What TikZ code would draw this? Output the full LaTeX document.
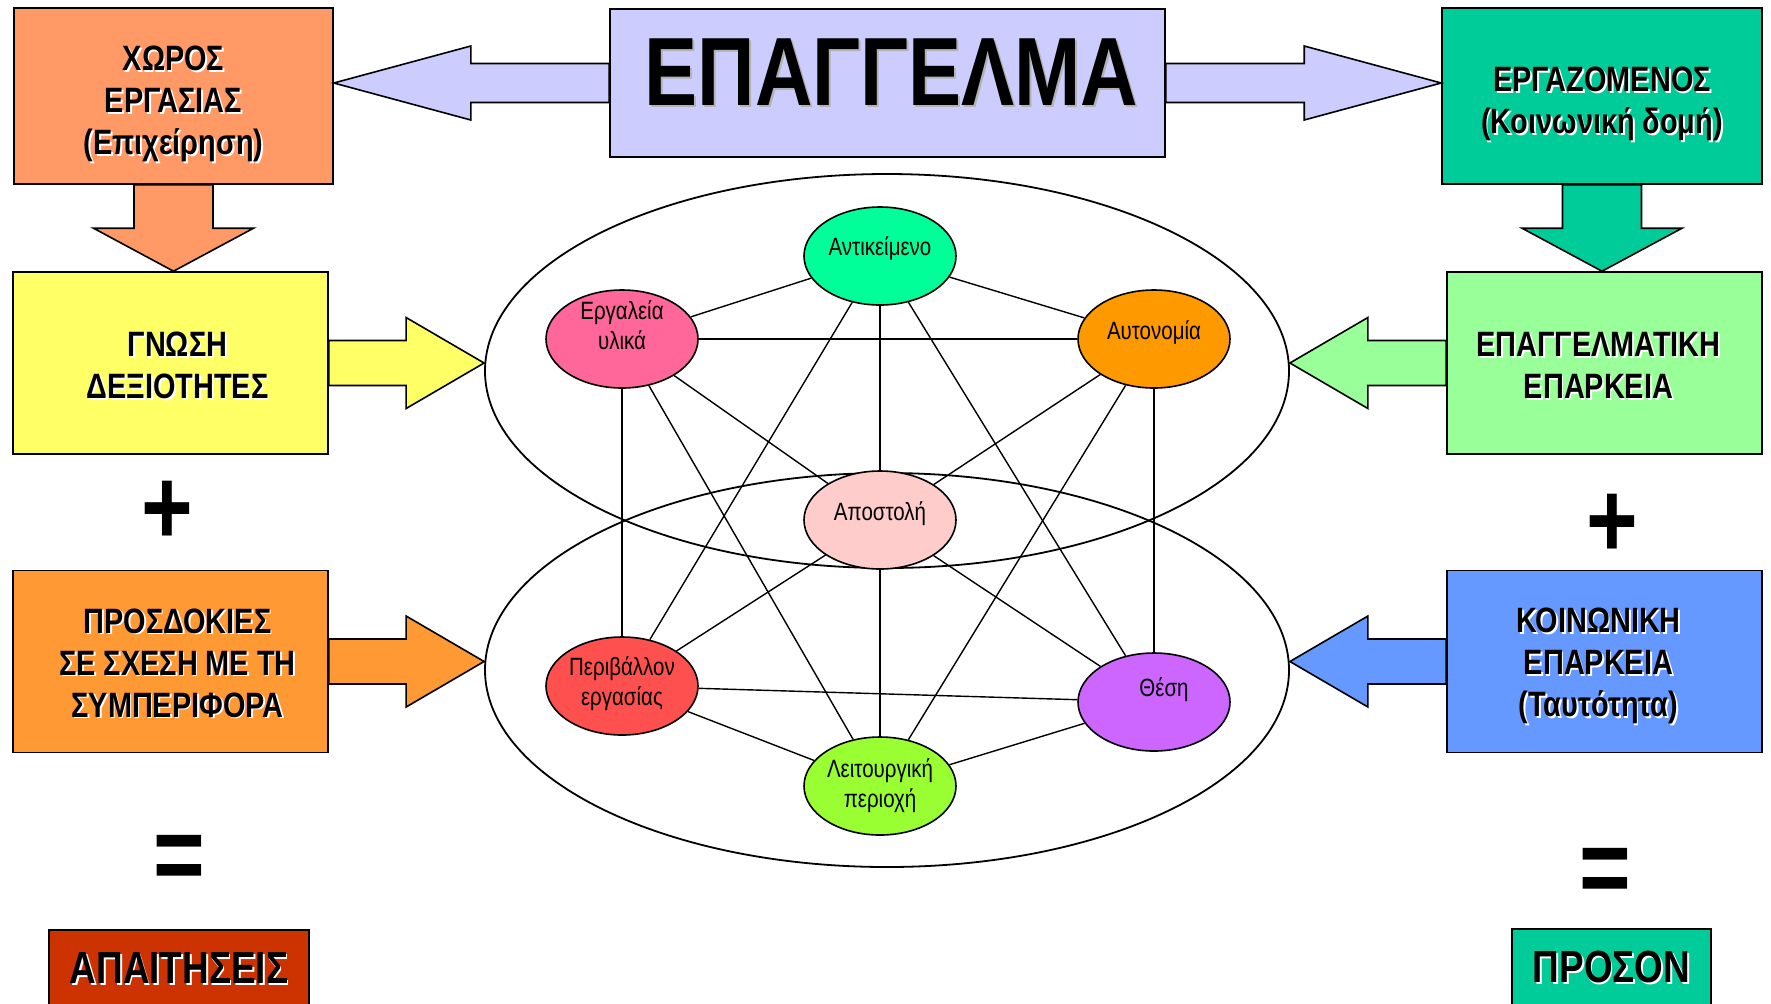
\documentclass[tikz,border=0pt]{standalone}
\usepackage{fontspec}
\setmainfont[FakeStretch=0.82]{Liberation Sans}
\usetikzlibrary{shapes.geometric,calc}

\definecolor{xorosorange}{HTML}{FF9966}
\definecolor{titleblue}{HTML}{CCCCFF}
\definecolor{ergazgreen}{HTML}{00CC99}
\definecolor{gnosiyellow}{HTML}{FFFF66}
\definecolor{epaggreen}{HTML}{99FF99}
\definecolor{prosdokorange}{HTML}{FF9933}
\definecolor{koinonblue}{HTML}{6699FF}
\definecolor{apaitred}{HTML}{CC3300}
\definecolor{antikgreen}{HTML}{00FF99}
\definecolor{ergalpink}{HTML}{FF6699}
\definecolor{autonorange}{HTML}{FF9900}
\definecolor{apostpink}{HTML}{FFCCCC}
\definecolor{perivred}{HTML}{FF5050}
\definecolor{thesiviolet}{HTML}{CC66FF}
\definecolor{leitgreen}{HTML}{99FF33}
\definecolor{shadowgray}{HTML}{B2B2B2}

% text with an offset shadow
\newcommand{\shd}[2][white]{\makebox[0pt][l]{\kern0.9pt\raisebox{-0.9pt}{\textcolor{#1}{#2}}}#2}
% taller first line, pushes the box text down
\newcommand{\drop}[1]{\rule{0pt}{#1}}
% lines set a little off centre
\newcommand{\lsh}{\kern7pt}
\newcommand{\rsh}{\kern-6pt}

% block arrow: fill, from, to, shaft half width, head half width, head length
\newcommand{\blockarrow}[6]{%
  \coordinate (hb) at ($(#3)!#6!(#2)$);
  \filldraw[fill=#1, line width=0.8pt]
    ($(#2)!#4!90:(#3)$) -- ($(hb)!#4!90:(#3)$) -- ($(hb)!#5!90:(#3)$) --
    (#3) -- ($(hb)!#5!-90:(#3)$) -- ($(hb)!#4!-90:(#3)$) --
    ($(#2)!#4!-90:(#3)$) -- cycle;
}

\begin{document}
\begin{tikzpicture}[x=0.5pt, y=-0.5pt,
    infobox/.style={draw, line width=0.8pt, inner sep=0pt, align=center,
      minimum width=157.5pt, minimum height=91pt,
      font=\fontsize{17.6}{21}\selectfont\bfseries},
    bubble/.style={draw, ellipse, line width=0.8pt, inner sep=0pt,
      minimum width=76pt, minimum height=49pt},
    bubbletext/.style={inner sep=0pt, align=center,
      font=\fontsize{12.5}{15}\selectfont},
    ring/.style={draw, ellipse, line width=0.9pt,
      minimum width=402pt, minimum height=197pt},
    sign/.style={inner sep=0pt, anchor=base,
      font=\fontsize{54}{54}\selectfont\bfseries},
    link/.style={line width=0.7pt}]

    \path[use as bounding box, fill=white] (0,0) rectangle (1771,1003);

    % top row
    \node[infobox, fill=titleblue, minimum width=277.5pt, minimum height=74pt,
      text depth=11pt, font=\fontsize{48.5}{49}\selectfont\bfseries]
      (title) at (887.5,83) {\kern4pt\shd[shadowgray]{ΕΠΑΓΓΕΛΜΑ}};
    \node[infobox, fill=xorosorange, minimum width=159.5pt, minimum height=88pt]
      (xoros) at (173.5,96)
      {\drop{21.4pt}\shd{ΧΩΡΟΣ}\\\shd{ΕΡΓΑΣΙΑΣ}\\\shd{(Επιχείρηση)}};
    \node[infobox, fill=ergazgreen, minimum width=160pt, minimum height=88pt]
      (ergaz) at (1602,96)
      {\drop{21.4pt}\shd{ΕΡΓΑΖΟΜΕΝΟΣ}\\\shd{(Κοινωνική δομή)}};

    % left column
    \node[infobox, fill=gnosiyellow] (gnosi) at (170.5,363)
      {\drop{15.8pt}\lsh\shd{ΓΝΩΣΗ}\\\lsh\shd{ΔΕΞΙΟΤΗΤΕΣ}};
    \node[infobox, fill=prosdokorange] (prosdok) at (170.5,661.5)
      {\drop{14.7pt}\lsh\shd{ΠΡΟΣΔΟΚΙΕΣ}\\\lsh\shd{ΣΕ ΣΧΕΣΗ ΜΕ ΤΗ}\\\lsh\shd{ΣΥΜΠΕΡΙΦΟΡΑ}};
    \node[infobox, fill=apaitred, minimum width=130pt, minimum height=39pt,
      font=\fontsize{22.5}{22}\selectfont\bfseries]
      (apait) at (179,969) {\shd{ΑΠΑΙΤΗΣΕΙΣ}};

    % right column
    \node[infobox, fill=epaggreen] (epagg) at (1604.5,363)
      {\drop{15.8pt}\rsh\shd{ΕΠΑΓΓΕΛΜΑΤΙΚΗ}\\\rsh\shd{ΕΠΑΡΚΕΙΑ}};
    \node[infobox, fill=koinonblue] (koinon) at (1604.5,661.5)
      {\drop{18pt}\rsh\shd{ΚΟΙΝΩΝΙΚΗ}\\\rsh\shd{ΕΠΑΡΚΕΙΑ}\\\rsh\shd{(Ταυτότητα)}};
    \node[infobox, fill=ergazgreen, minimum width=99.5pt, minimum height=39pt,
      font=\fontsize{22.5}{22}\selectfont\bfseries]
      (proson) at (1611.5,968) {\shd{ΠΡΟΣΟΝ}};

    % plus and equals
    \node[sign] (plusl) at (167,544) {+};
    \node[sign] (plusr) at (1612,557) {+};
    \node[sign] (eql) at (179,891) {=};
    \node[sign] (eqr) at (1605,904) {=};

    % rings
    \node[ring] (upper) at (887,371) {};
    \node[ring] (lower) at (887,670) {};

    % bubbles
    \node[bubble, fill=antikgreen, label={[bubbletext, yshift=4pt]center:Αντικείμενο}]
      (antik) at (880,256) {};
    \node[bubble, fill=ergalpink, label={[bubbletext, yshift=6.8pt]center:Εργαλεία\\υλικά}]
      (ergal) at (622,339) {};
    \node[bubble, fill=autonorange, label={[bubbletext, yshift=3.4pt]center:Αυτονομία}]
      (auton) at (1154,339) {};
    \node[bubble, fill=apostpink, label={[bubbletext, yshift=3.4pt]center:Αποστολή}]
      (apost) at (880,520) {};
    \node[bubble, fill=perivred, label={[bubbletext, yshift=1pt]center:Περιβάλλον\\εργασίας}]
      (periv) at (622,686) {};
    \node[bubble, fill=thesiviolet, label={[bubbletext, yshift=6.2pt, xshift=5pt]center:Θέση}]
      (thesi) at (1154,702) {};
    \node[bubble, fill=leitgreen, label={[bubbletext]center:Λειτουργική\\περιοχή}]
      (leit) at (880,786) {};

    % edges
    \draw[link] (antik) -- (ergal);
    \draw[link] (antik) -- (auton);
    \draw[link] (antik) -- (apost);
    \draw[link] (antik) -- (periv);
    \draw[link] (antik) -- (thesi);
    \draw[link] (ergal) -- (auton);
    \draw[link] (ergal) -- (apost);
    \draw[link] (ergal) -- (periv);
    \draw[link] (ergal) -- (leit);
    \draw[link] (auton) -- (apost);
    \draw[link] (auton) -- (thesi);
    \draw[link] (auton) -- (leit);
    \draw[link] (apost) -- (periv);
    \draw[link] (apost) -- (thesi);
    \draw[link] (apost) -- (leit);
    \draw[link] (periv) -- (thesi);
    \draw[link] (periv) -- (leit);
    \draw[link] (thesi) -- (leit);

    % arrow tips
    \coordinate (xorostip) at (xoros.east |- title.west);
    \coordinate (ergaztip) at (ergaz.west |- title.east);
    \coordinate (gnositip) at (xoros.south |- gnosi.north);
    \coordinate (epaggtip) at (ergaz.south |- epagg.north);
    \coordinate (upperltip) at (upper.west |- gnosi.east);
    \coordinate (lowerltip) at (lower.west |- prosdok.east);
    \coordinate (upperrtip) at (upper.east |- epagg.west);
    \coordinate (lowerrtip) at (lower.east |- koinon.west);

    % block arrows
    \blockarrow{titleblue}{title.west}{xorostip}{9.75pt}{18.5pt}{68.5pt}
    \blockarrow{titleblue}{title.east}{ergaztip}{9.75pt}{18.5pt}{68.5pt}
    \blockarrow{xorosorange}{xoros.south}{gnositip}{19.75pt}{40pt}{21.5pt}
    \blockarrow{ergazgreen}{ergaz.south}{epaggtip}{19.75pt}{40pt}{21.5pt}
    \blockarrow{gnosiyellow}{gnosi.east}{upperltip}{11.25pt}{22.75pt}{39pt}
    \blockarrow{prosdokorange}{prosdok.east}{lowerltip}{11.25pt}{22.75pt}{39pt}
    \blockarrow{epaggreen}{epagg.west}{upperrtip}{11.25pt}{22.75pt}{39pt}
    \blockarrow{koinonblue}{koinon.west}{lowerrtip}{11.25pt}{22.75pt}{39pt}

\end{tikzpicture}
\end{document}
